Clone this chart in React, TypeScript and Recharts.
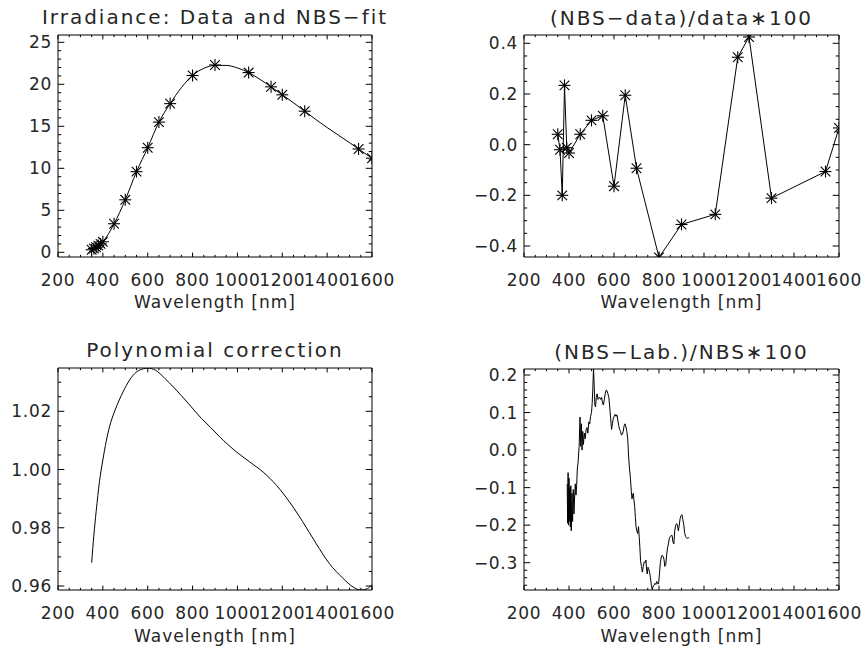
import React from 'react'
import { ComposedChart, Line, XAxis, YAxis, ReferenceArea } from 'recharts'

const FONT = '"DejaVu Sans", Verdana, sans-serif'
const INK = '#000000'
const TEXT_INK = '#262626'

// ── Shared wavelength axis ────────────────────────────────────────────────────

const xTicks = [200, 400, 600, 800, 1000, 1200, 1400, 1600]
const xTickLabels = ['200', '400', '600', '800', '1000', '1200', '1400', '1600']
const X_DOMAIN: [number, number] = [200, 1600]

// ── Data ──────────────────────────────────────────────────────────────────────

// calibration points (NBS lamp), irradiance
const calWl = [350, 360, 370, 380, 390, 400, 450, 500, 550, 600, 650, 700, 800, 900, 1050, 1150, 1200, 1300, 1540, 1600]
const calIrr = [0.3, 0.45, 0.6, 0.8, 1.0, 1.25, 3.4, 6.25, 9.6, 12.45, 15.5, 17.7, 21.05, 22.3, 21.4, 19.7, 18.75, 16.8, 12.3, 11.2]

// NBS fit through the calibration points
const fitWl = [350, 375, 400, 425, 450, 475, 500, 550, 600, 650, 700, 750, 800, 850, 900, 950, 1000, 1050, 1100, 1150, 1200, 1250, 1300, 1350, 1400, 1450, 1500, 1540, 1600]
const fitIrr = [0.3, 0.7, 1.25, 2.2, 3.4, 4.75, 6.25, 9.6, 12.45, 15.5, 17.7, 19.6, 21.05, 21.9, 22.25, 22.25, 21.95, 21.4, 20.6, 19.7, 18.75, 17.8, 16.8, 15.8, 14.85, 13.95, 13.05, 12.3, 11.2]

// (NBS-data)/data*100 at the calibration wavelengths
const residPct = [0.041, -0.02, -0.2, 0.234, -0.012, -0.033, 0.041, 0.096, 0.114, -0.164, 0.195, -0.093, -0.445, -0.315, -0.275, 0.345, 0.425, -0.211, -0.106, 0.066]

// polynomial correction
const polyWl = [350, 360, 370, 385, 400, 415, 430, 450, 475, 505, 535, 565, 600, 635, 675, 720, 780, 840, 880, 920, 995, 1055, 1115, 1175, 1230, 1290, 1350, 1410, 1470, 1515, 1550, 1580, 1600]
const polyCorr = [0.968, 0.9775, 0.9855, 0.9959, 1.0033, 1.0097, 1.0148, 1.0195, 1.0242, 1.0289, 1.0324, 1.0342, 1.0348, 1.0341, 1.0314, 1.0279, 1.0228, 1.0175, 1.0145, 1.0113, 1.0061, 1.0026, 0.9991, 0.9945, 0.9891, 0.9822, 0.9747, 0.9677, 0.9627, 0.9597, 0.9586, 0.9591, 0.9605]

// (NBS-Lab.)/NBS*100
const labWl = [
  392, 394, 396, 398, 400, 402, 404, 406, 408, 410, 413, 416, 419, 422, 425, 428, 431, 434, 437, 440,
  445, 449, 452, 455, 458, 461, 464, 468, 472, 476, 480, 484, 488, 492, 496, 500, 503, 506, 509, 512,
  515, 518, 521, 525, 529, 533, 537, 541, 545, 549, 553, 557, 561, 565, 569, 573, 577, 581, 585, 589,
  593, 597, 601, 605, 609, 613, 617, 621, 625, 629, 633, 637, 641, 645, 649, 653, 657, 661, 665, 669,
  673, 677, 680, 683, 686, 689, 692, 695, 698, 701, 705, 709, 712, 715, 718, 722, 726, 730, 734, 738,
  742, 745, 748, 751, 754, 758, 762, 766, 770, 774, 778, 782, 786, 790, 794, 798, 802, 806, 810, 814,
  818, 822, 826, 830, 834, 838, 842, 846, 850, 854, 858, 862, 866, 870, 874, 878, 882, 886, 890, 894,
  898, 902, 906, 910, 914, 918, 922, 926, 930, 934,
]
const labPct = [
  -0.09, -0.195, -0.06, -0.2, -0.075, -0.19, -0.1, -0.205, -0.095, -0.215, -0.115, -0.19, -0.105, -0.17, -0.125, -0.09, -0.12, -0.095, -0.05, -0.035,
  0.01, 0.088, 0.01, 0.07, 0.0, 0.05, 0.015, 0.045, 0.03, 0.055, 0.06, 0.045, 0.075, 0.07, 0.09, 0.1, 0.125, 0.165, 0.22, 0.17,
  0.12, 0.115, 0.14, 0.15, 0.135, 0.14, 0.14, 0.135, 0.14, 0.125, 0.12, 0.135, 0.15, 0.16, 0.158, 0.15, 0.14, 0.115, 0.085, 0.055,
  0.07, 0.085, 0.09, 0.095, 0.09, 0.094, 0.08, 0.065, 0.055, 0.05, 0.04, 0.042, 0.05, 0.065, 0.07, 0.062, 0.05, 0.03, -0.018, -0.05,
  -0.075, -0.11, -0.13, -0.12, -0.115, -0.135, -0.15, -0.18, -0.205, -0.215, -0.222, -0.204, -0.23, -0.26, -0.295, -0.31, -0.325, -0.31, -0.298, -0.3,
  -0.293, -0.32, -0.33, -0.312, -0.316, -0.325, -0.34, -0.36, -0.372, -0.362, -0.36, -0.355, -0.358, -0.35, -0.356, -0.356, -0.33, -0.3, -0.285, -0.28,
  -0.283, -0.29, -0.31, -0.305, -0.28, -0.26, -0.25, -0.235, -0.23, -0.228, -0.227, -0.245, -0.25, -0.215, -0.2, -0.196, -0.2, -0.215, -0.2, -0.182,
  -0.175, -0.172, -0.185, -0.198, -0.22, -0.23, -0.234, -0.235, -0.233, -0.235,
]

// y tick labels per panel
const irrTicks = [0, 5, 10, 15, 20, 25]
const irrTickLabels = ['0', '5', '10', '15', '20', '25']
const residTicks = [-0.4, -0.2, 0, 0.2, 0.4]
const residTickLabels = ['\u22120.4', '\u22120.2', '0.0', '0.2', '0.4']
const polyTicks = [0.96, 0.98, 1.0, 1.02]
const polyTickLabels = ['0.96', '0.98', '1.00', '1.02']
const labTicks = [-0.3, -0.2, -0.1, 0, 0.1, 0.2]
const labTickLabels = ['\u22120.3', '\u22120.2', '\u22120.1', '0.0', '0.1', '0.2']

const titles = ['Irradiance: Data and NBS\u2212fit', '(NBS\u2212data)/data\u2217100', 'Polynomial correction', '(NBS\u2212Lab.)/NBS\u2217100']
const xTitle = 'Wavelength [nm]'

// ── Helpers ───────────────────────────────────────────────────────────────────

interface Box { left: number; right: number; top: number; bottom: number }

interface PanelSpec {
  pageLeft: number
  pageTop: number
  width: number
  height: number
  plot: Box
  yDomain: [number, number]
  yTicks: number[]
  yTickLabels: string[]
  yMinorStep: number
  xMinorStep: number
}

function minorTicks(domain: [number, number], anchor: number, step: number) {
  const out: number[] = []
  const lo = Math.ceil((domain[0] - anchor) / step - 1e-9)
  const hi = Math.floor((domain[1] - anchor) / step + 1e-9)
  for (let k = lo; k <= hi; k++) out.push(+(anchor + k * step).toFixed(6))
  return out
}

const pairs = (xs: number[], ys: number[]) => xs.map((wl, i) => ({ wl, v: ys[i] }))

const textStyle = { fontFamily: FONT, fill: TEXT_INK }

function makeXTick(plot: Box) {
  return (props: any) => {
    const x = props.x as number
    const v = props.payload?.value as number
    const i = xTicks.findIndex(t => Math.abs(t - v) < 1e-6)
    const len = i >= 0 ? 4.4 : 2.2
    return (
      <g>
        <line x1={x} x2={x} y1={plot.bottom} y2={plot.bottom - len} stroke={INK} strokeWidth={1} />
        <line x1={x} x2={x} y1={plot.top} y2={plot.top + len} stroke={INK} strokeWidth={1} />
        {i >= 0 && (
          <text x={x} y={plot.bottom + 29} textAnchor="middle" fontSize={17} letterSpacing={0.7} {...textStyle}>
            {xTickLabels[i]}
          </text>
        )}
      </g>
    )
  }
}

function makeYTick(plot: Box, majors: number[], labels: string[]) {
  return (props: any) => {
    const y = props.y as number
    const v = props.payload?.value as number
    const i = majors.findIndex(t => Math.abs(t - v) < 1e-6)
    const len = i >= 0 ? 6.3 : 3.2
    return (
      <g>
        <line x1={plot.left} x2={plot.left + len} y1={y} y2={y} stroke={INK} strokeWidth={1} />
        <line x1={plot.right} x2={plot.right - len} y1={y} y2={y} stroke={INK} strokeWidth={1} />
        {i >= 0 && (
          <text x={plot.left - 6} y={y} dy="0.36em" textAnchor="end" fontSize={17} letterSpacing={0.7} {...textStyle}>
            {labels[i]}
          </text>
        )}
      </g>
    )
  }
}

// IDL-style asterisk marker
function Star(props: any) {
  const { cx, cy } = props
  if (cx == null || cy == null) return <g />
  const r = 6
  const d = 4.8
  return (
    <g stroke={INK} strokeWidth={1.1}>
      <line x1={cx - r} x2={cx + r} y1={cy} y2={cy} />
      <line x1={cx} x2={cx} y1={cy - r} y2={cy + r} />
      <line x1={cx - d} x2={cx + d} y1={cy - d} y2={cy + d} />
      <line x1={cx - d} x2={cx + d} y1={cy + d} y2={cy - d} />
    </g>
  )
}

const renderStar = (props: any) => <Star key={`s${props.index}`} {...props} />

function Panel({ spec, children }: { spec: PanelSpec; children: React.ReactNode }) {
  const { plot, width, height } = spec
  const xAxisHeight = 40
  const margin = {
    top: plot.top,
    left: 0,
    right: width - plot.right,
    bottom: height - plot.bottom - xAxisHeight,
  }
  const xMinor = minorTicks(X_DOMAIN, 200, spec.xMinorStep)
  const yMinor = minorTicks(spec.yDomain, spec.yTicks[0], spec.yMinorStep)
  return (
    <div style={{ position: 'absolute', left: spec.pageLeft, top: spec.pageTop }}>
      <ComposedChart width={width} height={height} margin={margin}>
        <XAxis
          type="number"
          dataKey="wl"
          domain={X_DOMAIN}
          ticks={xMinor}
          interval={0}
          allowDataOverflow
          height={xAxisHeight}
          axisLine={false}
          tickLine={false}
          tick={makeXTick(plot)}
        />
        <YAxis
          type="number"
          dataKey="v"
          domain={spec.yDomain}
          ticks={yMinor}
          interval={0}
          allowDataOverflow
          width={plot.left}
          axisLine={false}
          tickLine={false}
          tick={makeYTick(plot, spec.yTicks, spec.yTickLabels)}
        />
        <ReferenceArea
          x1={X_DOMAIN[0]}
          x2={X_DOMAIN[1]}
          y1={spec.yDomain[0]}
          y2={spec.yDomain[1]}
          fill="none"
          fillOpacity={0}
          stroke={INK}
          strokeWidth={1}
          ifOverflow="visible"
        />
        {children}
      </ComposedChart>
    </div>
  )
}

// ── Panel layouts ─────────────────────────────────────────────────────────────

const irrSpec: PanelSpec = {
  pageLeft: 0, pageTop: 0, width: 432, height: 325,
  plot: { left: 58, right: 372, top: 35, bottom: 257 },
  yDomain: [-0.56, 25.87], yTicks: irrTicks, yTickLabels: irrTickLabels, yMinorStep: 1, xMinorStep: 50,
}
const residSpec: PanelSpec = {
  pageLeft: 432, pageTop: 0, width: 432, height: 325,
  plot: { left: 92, right: 407, top: 35, bottom: 257 },
  yDomain: [-0.4434, 0.4328], yTicks: residTicks, yTickLabels: residTickLabels, yMinorStep: 0.05, xMinorStep: 50,
}
const polySpec: PanelSpec = {
  pageLeft: 0, pageTop: 320, width: 432, height: 331,
  plot: { left: 58, right: 372, top: 48, bottom: 270 },
  yDomain: [0.95863, 1.03487], yTicks: polyTicks, yTickLabels: polyTickLabels, yMinorStep: 0.005, xMinorStep: 50,
}
const labSpec: PanelSpec = {
  pageLeft: 432, pageTop: 320, width: 432, height: 331,
  plot: { left: 92, right: 407, top: 49, bottom: 270 },
  yDomain: [-0.3727, 0.216], yTicks: labTicks, yTickLabels: labTickLabels, yMinorStep: 0.02, xMinorStep: 50,
}

const specs = [irrSpec, residSpec, polySpec, labSpec]
const titleBaselines = [24.3, 24.5, 357.3, 358.8]
const xTitleBaselines = [308.3, 308.3, 642.3, 642.3]

export default function App() {
  const fitData = pairs(fitWl, fitIrr)
  const calData = pairs(calWl, calIrr)
  const residData = pairs(calWl, residPct)
  const polyData = pairs(polyWl, polyCorr)
  const labData = pairs(labWl, labPct)

  return (
    <div style={{ position: 'absolute', left: 0, top: 0, width: 864, height: 651, background: '#ffffff', overflow: 'hidden' }}>
      <Panel spec={irrSpec}>
        <Line data={fitData} dataKey="v" type="monotone" stroke={INK} strokeWidth={1} dot={false} isAnimationActive={false} />
        <Line data={calData} dataKey="v" stroke="none" dot={renderStar} isAnimationActive={false} />
      </Panel>
      <Panel spec={residSpec}>
        <Line data={residData} dataKey="v" type="linear" stroke={INK} strokeWidth={1} dot={renderStar} isAnimationActive={false} />
      </Panel>
      <Panel spec={polySpec}>
        <Line data={polyData} dataKey="v" type="monotone" stroke={INK} strokeWidth={1} dot={false} isAnimationActive={false} />
      </Panel>
      <Panel spec={labSpec}>
        <Line data={labData} dataKey="v" type="linear" stroke={INK} strokeWidth={1} dot={false} isAnimationActive={false} />
      </Panel>

      {/* panel titles and x-axis titles */}
      <svg width={864} height={651} style={{ position: 'absolute', left: 0, top: 0, pointerEvents: 'none' }}>
        {specs.map((s, i) => {
          const cx = s.pageLeft + (s.plot.left + s.plot.right) / 2
          return (
            <g key={i}>
              <text x={cx} y={titleBaselines[i]} textAnchor="middle" fontSize={20} letterSpacing={2} {...textStyle}>
                {titles[i]}
              </text>
              <text x={cx} y={xTitleBaselines[i]} textAnchor="middle" fontSize={17} letterSpacing={1} {...textStyle}>
                {xTitle}
              </text>
            </g>
          )
        })}
      </svg>
    </div>
  )
}
